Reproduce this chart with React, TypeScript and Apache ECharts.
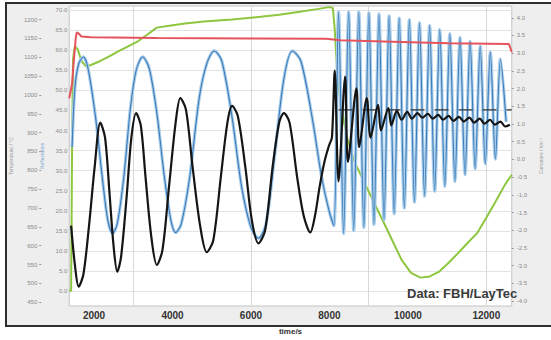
import React, { useEffect, useRef } from "react";
import * as echarts from "echarts";

const FONT = '"Liberation Sans", Arial, sans-serif';

// x axis (time in s)
const xTickLabels = [2000, 4000, 6000, 8000, 10000, 12000];
const xGridValues = [3000, 6000, 9000, 12000];

// y axis ticks
const temperatureTicks = [450, 500, 550, 600, 650, 700, 750, 800, 850, 900, 950, 1000, 1050, 1100, 1150, 1200];
const reflectanceTicks = [0, 5, 10, 15, 20, 25, 30, 35, 40, 45, 50, 55, 60, 65, 70];
const curvatureTicks = [-4, -3.5, -3, -2.5, -2, -1.5, -1, -0.5, 0, 0.5, 1, 1.5, 2, 2.5, 3, 3.5, 4];

// red: temperature
const temperature: [number, number][] = [
  [1368, 991], [1440, 1030], [1488, 1095], [1536, 1153], [1560, 1166], [1608, 1163],
  [1680, 1155], [1920, 1153], [3600, 1151], [6000, 1150], [7920, 1149], [8280, 1145],
  [9600, 1141], [11040, 1137], [12576, 1135], [12648, 1114],
];

// green: reflectance (second wavelength)
const reflectanceGreen: [number, number][] = [
  [1368, 0.0], [1416, 0.2], [1440, 35.9], [1464, 57.8], [1512, 61.0], [1584, 60.2],
  [1680, 57.3], [1800, 55.9], [1920, 56.3], [2160, 57.3], [2400, 58.5], [2640, 59.8],
  [2880, 61.0], [3120, 62.2], [3360, 63.9], [3600, 65.6], [3960, 66.1], [4320, 66.6],
  [4800, 67.1], [5520, 67.6], [6240, 68.3], [6720, 68.8], [7200, 69.5], [7680, 70.2],
  [7992, 70.7], [8088, 70.5], [8136, 65.1], [8208, 52.9], [8304, 45.6], [8448, 38.3],
  [8640, 32.2], [8880, 27.3], [9120, 22.4], [9360, 17.6], [9600, 12.7], [9840, 7.8],
  [10080, 4.6], [10320, 3.4], [10560, 3.7], [10800, 4.9], [11040, 7.1], [11280, 9.5],
  [11520, 12.0], [11760, 14.4], [12000, 18.3], [12240, 22.4], [12480, 26.6], [12648, 29.0],
];

// blue: reflectance
const reflectanceBlue: [number, number][] = [
  [1440, 35.9], [1512, 50.5], [1608, 56.6], [1728, 58.3], [1848, 55.4], [2040, 43.2],
  [2208, 28.5], [2352, 17.6], [2472, 14.4], [2592, 16.8], [2760, 28.5], [2928, 45.6],
  [3072, 54.9], [3240, 58.3], [3408, 55.4], [3600, 44.4], [3792, 28.5], [3960, 17.6],
  [4080, 14.6], [4224, 16.8], [4440, 28.5], [4680, 48.0], [4872, 56.6], [5064, 59.8],
  [5256, 57.3], [5520, 43.2], [5760, 26.1], [6000, 15.9], [6192, 13.2], [6384, 16.8],
  [6600, 33.4], [6840, 52.9], [7056, 59.8], [7272, 57.3], [7560, 43.2], [7800, 28.5],
  [7992, 20.0], [8112, 16.3],
  [8232, 69.5], [8361, 14.4], [8490, 69.5], [8619, 15.1], [8748, 69.5], [8877, 15.9],
  [9006, 69.3], [9135, 16.6], [9264, 69.0], [9393, 17.8], [9522, 68.5], [9651, 19.3],
  [9780, 68.0], [9909, 20.7], [10038, 67.6], [10167, 22.2], [10296, 66.8], [10425, 23.7],
  [10554, 66.1], [10683, 24.9], [10812, 65.1], [10941, 26.1], [11070, 64.1], [11199, 27.3],
  [11328, 63.2], [11457, 29.0], [11586, 62.2], [11715, 30.5], [11844, 61.0], [11973, 31.7],
  [12102, 59.5], [12231, 32.9], [12360, 57.8], [12504, 42.2],
];

// black: curvature
const curvature: [number, number][] = [
  [1416, -1.87], [1512, -2.98], [1608, -3.59], [1728, -3.25], [1872, -1.87], [2016, -0.21],
  [2160, 1.04], [2280, 0.62], [2400, -1.04], [2496, -2.42], [2592, -3.17], [2688, -2.76],
  [2832, -1.04], [2952, 0.62], [3072, 1.31], [3192, 0.96], [3312, -0.49], [3456, -2.15],
  [3600, -2.98], [3744, -2.56], [3912, -0.76], [4080, 1.04], [4200, 1.73], [4344, 1.40],
  [4512, -0.21], [4704, -1.87], [4872, -2.62], [5040, -2.28], [5232, -0.49], [5400, 1.04],
  [5520, 1.51], [5664, 1.23], [5856, -0.21], [6024, -1.73], [6192, -2.37], [6360, -2.01],
  [6552, -0.21], [6720, 1.04], [6840, 1.31], [6984, 1.04], [7176, -0.49], [7344, -1.59],
  [7512, -2.06], [7632, -1.59], [7752, -0.76], [7872, -0.07], [7992, 0.40], [8064, 0.62],
  [8136, 2.51], [8232, -0.62], [8400, 2.34], [8472, -0.07], [8688, 2.01], [8760, 0.35],
  [8952, 1.73], [9048, 0.62], [9240, 1.54], [9312, 0.82], [9504, 1.45], [9576, 0.96],
  [9720, 1.37], [9840, 1.12], [9984, 1.34], [10104, 1.15], [10248, 1.31], [10368, 1.18],
  [10512, 1.29], [10632, 1.15], [10776, 1.26], [10896, 1.12], [11040, 1.23], [11160, 1.09],
  [11304, 1.20], [11424, 1.07], [11568, 1.18], [11688, 1.04], [11832, 1.15], [11952, 1.01],
  [12096, 1.12], [12216, 0.98], [12360, 1.07], [12480, 0.93], [12600, 0.98],
];

// dashed black reference level (curvature)
const curvatureReference: [number, number][] = [[8232, 1.4], [12648, 1.4]];

export default function App() {
  const ref = useRef<HTMLDivElement>(null);

  useEffect(() => {
    if (!ref.current) return;
    const chart = echarts.init(ref.current, undefined, { renderer: "svg" });
    const smallLabel = { fontSize: 6, color: "#8a8a8a", fontFamily: FONT };
    chart.setOption({
      animation: false,
      textStyle: { fontFamily: FONT },
      grid: {
        left: 57, right: 24, top: 6, bottom: 28,
        show: true, backgroundColor: "#ffffff", borderColor: "#c4c4c4", borderWidth: 1,
      },
      xAxis: {
        type: "value", min: 1368, max: 12648,
        axisLine: { show: false },
        axisTick: { show: false, customValues: xGridValues },
        axisLabel: {
          customValues: xTickLabels, fontSize: 10, fontWeight: "bold", color: "#333",
          margin: 4, fontFamily: FONT, formatter: (v: number) => String(v),
        },
        splitLine: { show: true, lineStyle: { color: "#d8d8d8", width: 1 } },
        name: "time/s", nameLocation: "middle", nameGap: 21,
        nameTextStyle: { fontSize: 8, fontWeight: "bold", color: "#333", fontFamily: FONT },
      },
      yAxis: [
        {
          type: "value", position: "left", offset: 28, min: 440, max: 1236,
          name: "Temperature / °C", nameLocation: "middle", nameGap: 17,
          nameTextStyle: { fontSize: 5, color: "#a0a0a0", fontFamily: FONT },
          axisLine: { show: false },
          axisTick: { show: true, length: 2, customValues: temperatureTicks, lineStyle: { color: "#999" } },
          axisLabel: { ...smallLabel, customValues: temperatureTicks, margin: 4, formatter: (v: number) => String(v) },
          splitLine: { show: false },
        },
        {
          type: "value", position: "left", offset: 0, min: -3.66, max: 70.98,
          name: "Reflectance", nameLocation: "middle", nameGap: 17,
          nameTextStyle: { fontSize: 5, color: "#7aa6d0", fontFamily: FONT },
          axisLine: { show: false },
          axisTick: { show: false, customValues: reflectanceTicks },
          axisLabel: {
            ...smallLabel, customValues: reflectanceTicks, margin: 2,
            formatter: (v: number) => v.toFixed(1),
          },
          splitLine: { show: true, lineStyle: { color: "#e2e2e2", width: 1 } },
        },
        {
          type: "value", position: "right", offset: 0, min: -4.138, max: 4.332,
          name: "Curvature / km⁻¹", nameLocation: "middle", nameGap: 20,
          nameTextStyle: { fontSize: 5, color: "#a0a0a0", fontFamily: FONT },
          axisLine: { show: false },
          axisTick: { show: true, length: 2, customValues: curvatureTicks, lineStyle: { color: "#999" } },
          axisLabel: {
            ...smallLabel, customValues: curvatureTicks, margin: 5,
            formatter: (v: number) => v.toFixed(1),
          },
          splitLine: { show: false },
        },
      ],
      series: [
        {
          type: "line", yAxisIndex: 1, data: reflectanceGreen, showSymbol: false, z: 2,
          lineStyle: { color: "#8dc63f", width: 2 },
        },
        {
          type: "line", yAxisIndex: 1, data: reflectanceBlue, showSymbol: false, z: 3, smooth: 0.3,
          lineStyle: { color: "#a9cdea", width: 3.2 },
        },
        {
          type: "line", yAxisIndex: 1, data: reflectanceBlue, showSymbol: false, z: 4, smooth: 0.3,
          lineStyle: { color: "#3d7cb8", width: 1.1 },
        },
        {
          type: "line", yAxisIndex: 2, data: curvatureReference, showSymbol: false, z: 5,
          lineStyle: { color: "#333", width: 1.3, type: [14, 10] },
        },
        {
          type: "line", yAxisIndex: 2, data: curvature, showSymbol: false, z: 6, smooth: 0.3,
          lineStyle: { color: "#151515", width: 2.2 },
        },
        {
          type: "line", yAxisIndex: 0, data: temperature, showSymbol: false, z: 7,
          lineStyle: { color: "#e5545c", width: 2 },
        },
      ],
      graphic: [
        {
          type: "text", left: 407, top: 287, z: 100,
          style: { text: "Data: FBH/LayTec", font: `bold 13px ${FONT}`, fill: "#3a3a3a" },
        },
      ],
    });
    return () => chart.dispose();
  }, []);

  return (
    <div style={{ position: "fixed", left: 0, top: 0, width: 551, height: 340, background: "#ffffff", overflow: "hidden" }}>
      <div
        style={{
          position: "absolute", left: 5, top: 2, width: 600, height: 325, boxSizing: "border-box",
          border: "2px solid #2e2e2e", background: "#eeeeee",
        }}
      />
      <div ref={ref} style={{ position: "absolute", left: 0, top: 0, width: 551, height: 340 }} />
    </div>
  );
}
